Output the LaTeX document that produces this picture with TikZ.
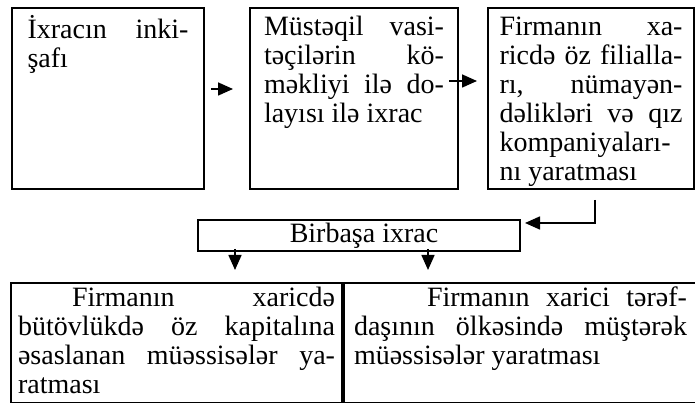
\documentclass[tikz,border=0pt]{standalone}
\usepackage{fontspec}
\setmainfont{Liberation Serif}
\usetikzlibrary{arrows.meta, positioning, calc}

\tikzstyle{block} = [draw=black, line width=2pt, inner ysep=0pt, anchor=north west, font=\fontsize{28}{29}\selectfont]
\tikzstyle{arrow} = [line width=1.6pt, -{Triangle[length=15pt,width=13pt]}]

% width, height, top gap, text
\newcommand{\celltext}[4]{\parbox[c][#2][t]{#1}{\hyphenpenalty=10000\exhyphenpenalty=10000\vspace*{#3}\strut #4}}

\begin{document}
\begin{tikzpicture}[x=1pt, y=1pt]
\useasboundingbox (0,0) rectangle (695,403);

% top row
\node[block, inner xsep=15.5pt] (dev) at (11,396)
    {\celltext{161pt}{181pt}{7pt}{İxracın inki-\linebreak şafı}};
\node[block, inner xsep=14pt] (indirect) at (249,396)
    {\celltext{180pt}{181pt}{7pt}{Müstəqil vasi-\linebreak təçilərin kö-\linebreak məkliyi ilə do-\linebreak layısı ilə ixrac}};
\node[block, inner xsep=11.5pt] (branch) at (487,396)
    {\celltext{183pt}{181pt}{7pt}{Firmanın xa-\linebreak ricdə öz filialla-\linebreak rı, nümayən-\linebreak dəlikləri və qız\linebreak kompaniyaları-\linebreak nı yaratması}};

% middle
\node[block, inner sep=0pt, minimum width=322pt, minimum height=31pt] (direct) at (197,184) {\hspace*{10pt}Birbaşa ixrac};

% bottom row
\node[block, inner xsep=7pt] (own) at (10,121)
    {\celltext{317pt}{120pt}{3pt}{\hspace*{54pt}Firmanın xaricdə\linebreak bütövlükdə öz kapitalına\linebreak əsaslanan müəssisələr ya-\linebreak ratması}};
\node[block, inner xsep=10pt, right=0pt of own] (joint)
    {\celltext{333pt}{120pt}{3pt}{\hspace*{73pt}Firmanın xarici tərəf-\linebreak daşının ölkəsində müştərək\linebreak müəssisələr yaratması}};

% connectors
\draw[arrow, shorten <=6pt, shorten >=16pt] ([yshift=9.5pt]dev.east) -- ([yshift=9.5pt]indirect.west);
\draw[arrow, shorten >=10pt] ([xshift=-10pt,yshift=17.5pt]indirect.east) -- ([yshift=17.5pt]branch.west);
\draw[arrow] ([xshift=4pt,yshift=-10pt]branch.south) |- ([xshift=4pt,yshift=-4pt]direct.north east);
\coordinate (dl) at ([xshift=-124pt,yshift=3pt]direct.south);
\coordinate (dr) at ([xshift=69pt,yshift=3pt]direct.south);
\draw[arrow, shorten >=12pt] (dl) -- (dl |- own.north);
\draw[arrow, shorten >=12pt] (dr) -- (dr |- joint.north);
\end{tikzpicture}
\end{document}
